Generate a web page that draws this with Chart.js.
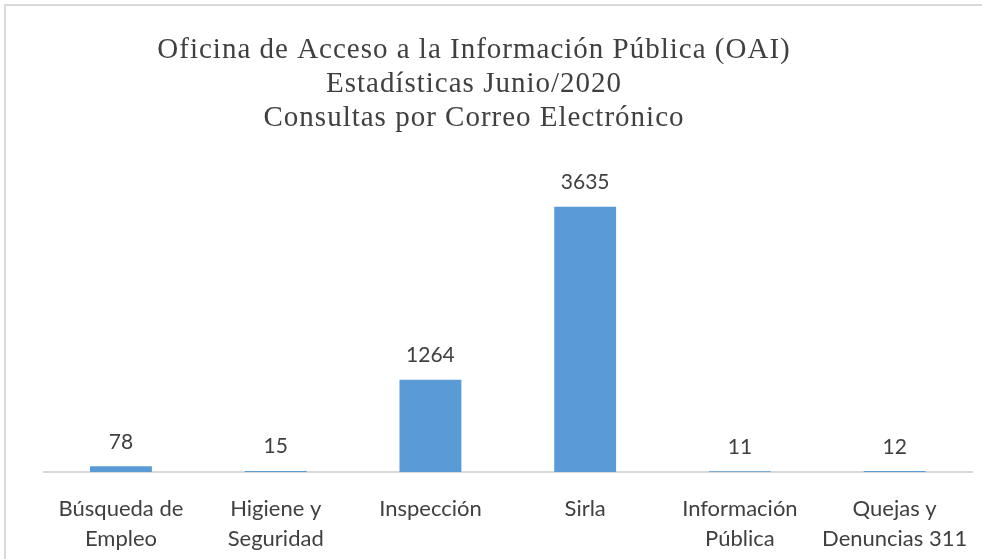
<!DOCTYPE html>
<html>
<head>
<meta charset="utf-8">
<script src="https://cdn.jsdelivr.net/npm/chart.js@4.4.0/dist/chart.umd.min.js"></script>
<style>
  html, body { margin: 0; padding: 0; background: #fff; overflow: hidden; }
  #frame {
    position: absolute; left: 4px; top: 4px;
    width: 1000px; height: 600px;
    border-left: 2px solid #d9d9d9; border-top: 2px solid #d9d9d9;
  }
  #chart_wrap { position: absolute; left: 0; top: 0; width: 976px; height: 553px; }
</style>
</head>
<body>
<div id="frame">
  <div id="chart_wrap"><canvas id="chart_oaiJunio2020"></canvas></div>
</div>
<script>
// chart data
var titleLines = [
    'Oficina de Acceso a la Información Pública (OAI)',
    'Estadísticas Junio/2020',
    'Consultas por Correo Electrónico'
];
var categories = [
    ['Búsqueda de', 'Empleo'],
    ['Higiene y', 'Seguridad'],
    'Inspección',
    'Sirla',
    ['Información', 'Pública'],
    ['Quejas y', 'Denuncias 311']
];
var consultas = [78, 15, 1264, 3635, 11, 12];
var yMax = 4000;

var textColor = '#404040';

var chart_oaiJunio2020 = new Chart(document.getElementById('chart_oaiJunio2020'), {
    type: 'bar',
    data: {
        labels: categories,
        datasets: [
            {
                label: 'Consultas',
                data: consultas,
                backgroundColor: '#5b9bd5',
                borderWidth: 0,
                categoryPercentage: 1,
                barPercentage: 0.4
            }
        ]
    },
    options: {
        animation: false,
        responsive: true,
        maintainAspectRatio: false,
        layout: {
            padding: { left: 37.6, right: 9.4, top: 174, bottom: 0 }
        },
        plugins: {
            legend: { display: false },
            title: { display: false },
            tooltip: { enabled: false }
        },
        scales: {
            x: {
                grid: { display: false },
                border: { display: true, color: '#d9d9d9', width: 2 },
                ticks: {
                    color: textColor,
                    font: { family: 'Lato', size: 22, lineHeight: 1.36 },
                    padding: 14,
                    maxRotation: 0,
                    autoSkip: false
                },
                afterFit: function(scale) {
                    scale.height = 87;
                }
            },
            y: {
                display: false,
                min: 0,
                max: yMax
            }
        }
    },
    plugins: [{
        id: 'whiteBackground',
        beforeDraw: (chart) => {
            const ctx = chart.ctx;
            ctx.save();
            ctx.fillStyle = 'white';
            ctx.fillRect(0, 0, chart.width, chart.height);
            ctx.restore();
        }
    }, {
        id: 'titleAndValues',
        afterDraw: (chart) => {
            const ctx = chart.ctx;
            ctx.save();
            // title, centred a bit left like the original
            ctx.fillStyle = textColor;
            ctx.textAlign = 'center';
            ctx.textBaseline = 'alphabetic';
            ctx.font = '29px "Liberation Serif", serif';
            ctx.letterSpacing = '1px';
            titleLines.forEach(function(line, i) {
                ctx.fillText(line, 468, 52 + i * 34);
            });
            ctx.letterSpacing = '0px';
            // value labels above the bars
            ctx.font = '21px Lato, sans-serif';
            const meta = chart.getDatasetMeta(0);
            meta.data.forEach(function(bar, i) {
                ctx.fillText(String(consultas[i]), bar.x, bar.y - 17.5);
            });
            ctx.restore();
        }
    }]
});
</script>
</body>
</html>
